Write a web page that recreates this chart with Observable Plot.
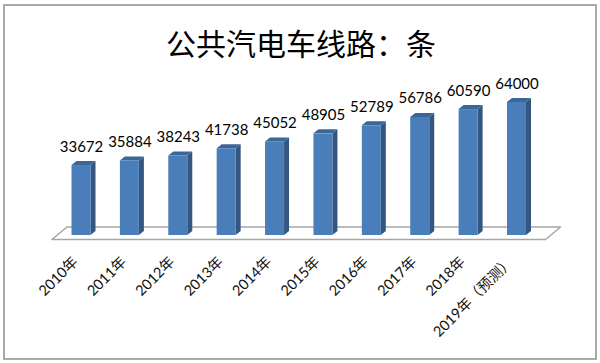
<!DOCTYPE html>
<html>
<head>
<meta charset="utf-8">
<script src="https://cdn.jsdelivr.net/npm/d3@7"></script>
<script src="https://cdn.jsdelivr.net/npm/@observablehq/plot@0.6"></script>
<style>
  html, body { margin: 0; padding: 0; background: #fff; }
  #wrap { position: relative; width: 600px; height: 363px; overflow: hidden; }
  #frame { position: absolute; left: 3px; top: 4px; width: 594px; height: 356px; box-sizing: border-box; border: 2px solid #a9a9a9; }
  #title { position: absolute; left: 0; top: 24px; width: 602px; text-align: center; font-family: "Noto Sans CJK SC", sans-serif; font-size: 30px; line-height: 36px; font-weight: 400; color: #000; }
  #chart { position: absolute; left: 0; top: 0; }
</style>
</head>
<body>
<div id="wrap">
  <div id="frame"></div>
  <div id="title">公共汽电车线路：条</div>
  <div id="chart"></div>
</div>
<script>
// ---- data ----
const years = ["2010年", "2011年", "2012年", "2013年", "2014年", "2015年", "2016年", "2017年", "2018年", "2019年（预测）"];
const values = [33672, 35884, 38243, 41738, 45052, 48905, 52789, 56786, 60590, 64000];

// ---- scales (pixel layout) ----
const xRange = [81, 516.5];
const yDomain = [0, 64000];
const yRange = [235, 102];
const pxPerX = (xRange[1] - xRange[0]) / (years.length - 1);
const pxPerY = (yRange[0] - yRange[1]) / (yDomain[1] - yDomain[0]);
const ux = px => px / pxPerX;  // pixels -> x units
const uy = px => px / pxPerY;  // pixels -> y units

const halfW = ux(9.5);       // half bar width
const depthX = ux(5), depthY = uy(4);  // bar 3D depth
const floorDX = ux(15), floorDY = uy(12.5);
const floorFront = uy(-4.5);
const floorPad = 0.6;

const n = values.length;
const bars = values.map((v, i) => ({i, v, label: years[i]}));

// floor parallelogram
const floor = [
  {y: floorFront, x1: -floorPad, x2: (n - 1) + floorPad},
  {y: floorFront + floorDY, x1: -floorPad + floorDX, x2: (n - 1) + floorPad + floorDX}
];

// side faces
const sides = bars.flatMap(d => [
  {z: d.i, x: d.i + halfW, y1: 0, y2: d.v},
  {z: d.i, x: d.i + halfW + depthX, y1: depthY, y2: d.v + depthY}
]);
// top caps
const tops = bars.flatMap(d => [
  {z: d.i, y: d.v, x1: d.i - halfW, x2: d.i + halfW},
  {z: d.i, y: d.v + depthY, x1: d.i - halfW + depthX, x2: d.i + halfW + depthX}
]);

const chart = Plot.plot({
  width: 600,
  height: 363,
  margin: 0,
  x: {type: "linear", domain: [0, n - 1], range: xRange, axis: null},
  y: {domain: yDomain, range: yRange, axis: null},
  marks: [
    Plot.areaX(floor, {y: "y", x1: "x1", x2: "x2", fill: "#ffffff", stroke: "#a6a6a6", strokeWidth: 1.5, curve: "linear"}),
    Plot.areaY(sides, {x: "x", y1: "y1", y2: "y2", z: "z", fill: "#34567f", curve: "linear"}),
    Plot.areaX(tops, {y: "y", x1: "x1", x2: "x2", z: "z", fill: "#3c6598", curve: "linear"}),
    Plot.rect(bars, {x1: d => d.i - halfW, x2: d => d.i + halfW, y1: 0, y2: "v", fill: "#4a7ebb"}),
    Plot.text(bars, {x: "i", y: "v", text: d => String(d.v), dy: -14, lineAnchor: "bottom",
      fontSize: 15, fontFamily: "Lato, 'Noto Sans', sans-serif", fill: "#000"}),
    Plot.text(bars, {x: "i", y: 0, text: "label", rotate: -45, textAnchor: "end", dx: -6, dy: 24,
      fontSize: 14.5, fontFamily: "Lato, 'Noto Sans CJK SC', sans-serif", fill: "#111"})
  ]
});
document.getElementById("chart").appendChild(chart);
</script>
</body>
</html>
